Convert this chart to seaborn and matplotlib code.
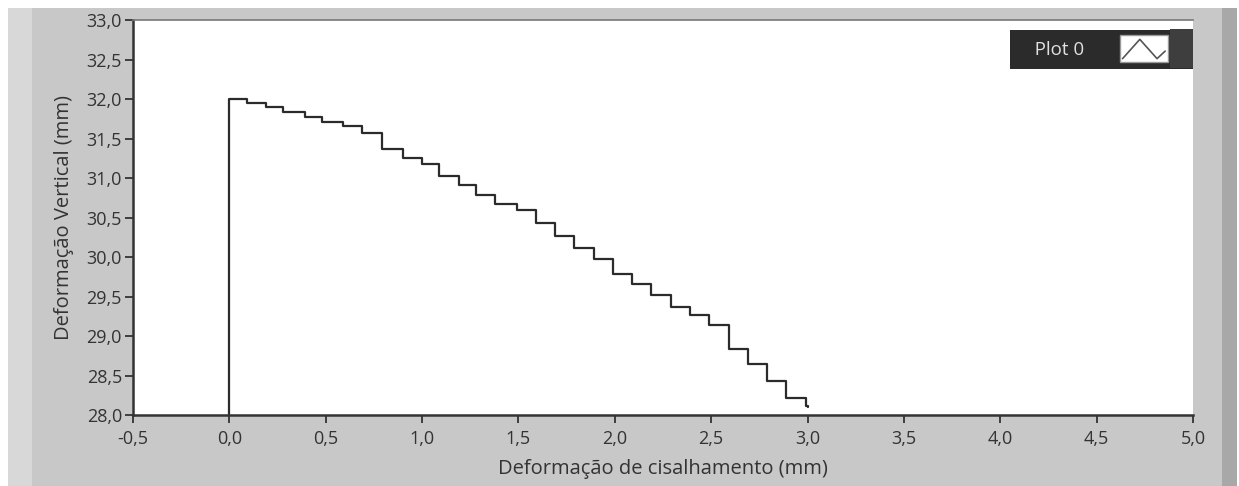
import numpy as np
import pandas as pd
import matplotlib
matplotlib.use('Agg')
import matplotlib.pyplot as plt
import matplotlib.patches as mpatches
from matplotlib.lines import Line2D
from matplotlib.legend_handler import HandlerBase
import seaborn as sns

# step data (x = shear deformation, y = vertical deformation)
x_shear = [0.0, 0.0, 0.09, 0.19, 0.28, 0.39, 0.48, 0.59, 0.69, 0.79, 0.90, 1.00,
           1.09, 1.19, 1.28, 1.38, 1.49, 1.59, 1.69, 1.79, 1.89, 1.99, 2.09,
           2.19, 2.29, 2.39, 2.49, 2.59, 2.69, 2.79, 2.89, 2.99, 3.00]
y_vert = [28.00, 32.00, 31.95, 31.90, 31.84, 31.77, 31.71, 31.66, 31.57, 31.37, 31.25, 31.18,
          31.03, 30.91, 30.79, 30.67, 30.59, 30.43, 30.27, 30.12, 29.97, 29.79, 29.66,
          29.52, 29.37, 29.27, 29.14, 28.84, 28.65, 28.43, 28.22, 28.12, 28.10]

x_ticks = [-0.5, 0.0, 0.5, 1.0, 1.5, 2.0, 2.5, 3.0, 3.5, 4.0, 4.5, 5.0]
x_ticklabels = ['-0,5', '0,0', '0,5', '1,0', '1,5', '2,0', '2,5', '3,0', '3,5', '4,0', '4,5', '5,0']
y_ticks = [28.0, 28.5, 29.0, 29.5, 30.0, 30.5, 31.0, 31.5, 32.0, 32.5, 33.0]
y_ticklabels = ['28,0', '28,5', '29,0', '29,5', '30,0', '30,5', '31,0', '31,5', '32,0', '32,5', '33,0']

df = pd.DataFrame({'x': x_shear, 'y': y_vert})

LEG_PAD = 0.55


class ZigHandler(HandlerBase):
    # white box with a small zig-zag line, like the LabVIEW plot legend
    def create_artists(self, legend, orig_handle, xdescent, ydescent,
                       width, height, fontsize, trans):
        x0, y0 = -xdescent, -ydescent
        pad = LEG_PAD * fontsize
        # slightly lighter strip at the right end of the legend
        strip = mpatches.Rectangle((x0 + 0.80 * width, y0 - pad - 0.05 * height),
                                   0.20 * width + pad, height + 2 * pad + 0.1 * height,
                                   facecolor='#3e3e3e', lw=0, transform=trans)
        box = mpatches.Rectangle((x0, y0 - 0.3 * height), 0.76 * width, 1.6 * height,
                                 facecolor='white', edgecolor='#9a9a9a', lw=1, transform=trans)
        bw = 0.76 * width
        zx = [x0 + 0.06 * bw, x0 + 0.42 * bw, x0 + 0.78 * bw, x0 + 0.95 * bw]
        zy = [y0 - 0.1 * height, y0 + 1.05 * height, y0 - 0.1 * height, y0 + 0.35 * height]
        line = Line2D(zx, zy, color='#555555', lw=1.2, transform=trans)
        return [strip, box, line]


sns.set_style('white')
plt.rcParams['font.family'] = ['Open Sans', 'DejaVu Sans']

fig = plt.figure(figsize=(12.39, 4.86), dpi=100, facecolor='white')
W, H = 1239, 486
# gray LabVIEW style panel
fig.patches.append(mpatches.Rectangle((8 / W, 0), (1237 - 8) / W, 1 - 8 / H,
                                      transform=fig.transFigure, facecolor='#c8c8c8', lw=0, zorder=-3))
fig.patches.append(mpatches.Rectangle((8 / W, 0), 24 / W, 1 - 8 / H,
                                      transform=fig.transFigure, facecolor='#d8d8d8', lw=0, zorder=-2))
fig.patches.append(mpatches.Rectangle((1222 / W, 0), 15 / W, 1 - 8 / H,
                                      transform=fig.transFigure, facecolor='#a8a8a8', lw=0, zorder=-2))

ax = fig.add_axes([133 / W, 1 - 415 / H, (1193 - 133) / W, (415 - 20) / H])
ax.set_facecolor('white')

sns.lineplot(data=df, x='x', y='y', estimator=None, sort=False, drawstyle='steps-post',
             color='#2b2b2b', lw=1.6, ax=ax, label='Plot 0')

ax.set_xlim(-0.5, 5.0)
ax.set_ylim(28.0, 33.0)
ax.set_xticks(x_ticks)
ax.set_xticklabels(x_ticklabels)
ax.set_yticks(y_ticks)
ax.set_yticklabels(y_ticklabels)
ax.tick_params(axis='both', direction='out', length=6, width=1.3, color='#333333',
               labelsize=13, labelcolor='#333333')
ax.tick_params(axis='x', pad=5)
ax.tick_params(axis='y', pad=2)
ax.tick_params(left=True, bottom=True)

for side in ['left', 'bottom']:
    ax.spines[side].set_color('#333333')
    ax.spines[side].set_linewidth(1.8)
ax.spines['top'].set_color('#777777')
ax.spines['top'].set_linewidth(1.2)
ax.spines['right'].set_visible(False)

ax.set_xlabel('Deformação de cisalhamento (mm)', fontsize=14.5, color='#333333', labelpad=8)
ax.set_ylabel('Deformação Vertical (mm)', fontsize=14.5, color='#333333', labelpad=9)

leg = ax.legend(handles=[Line2D([], [], color='#555555')], labels=['   Plot 0'],
                handler_map={Line2D: ZigHandler()}, loc='upper right',
                bbox_to_anchor=(1.0, 0.975), markerfirst=False, frameon=True, fancybox=False,
                facecolor='#2b2b2b', edgecolor='#2b2b2b', framealpha=1, labelcolor='#e0e0e0',
                fontsize=13.5, handlelength=3.36, handleheight=1.0, handletextpad=1.87,
                borderpad=LEG_PAD, borderaxespad=0)
leg.get_frame().set_linewidth(0)

fig.savefig('out.png', dpi=100, facecolor=fig.get_facecolor())
